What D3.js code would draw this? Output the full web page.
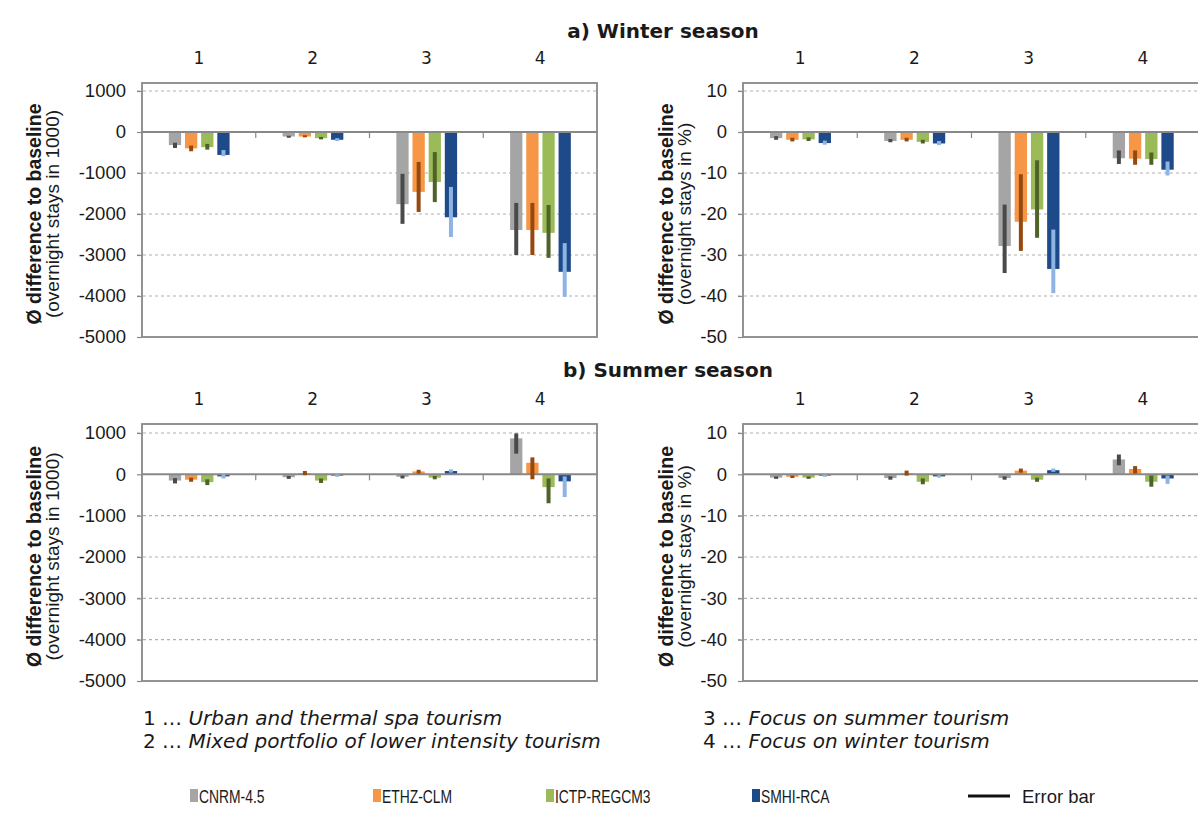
<!DOCTYPE html>
<html>
<head>
<meta charset="utf-8">
<script src="https://cdn.jsdelivr.net/npm/d3@7"></script>
<style>
  html, body { margin: 0; padding: 0; background: #fff; }
  svg { display: block; }
  .tick text { font-family: "Liberation Sans", Arial, sans-serif; font-size: 18.5px; fill: #1a1a1a; }
</style>
</head>
<body>
<svg id="chart" width="1198" height="828"></svg>
<script>
// Tourism clusters (x categories) and climate models (series)
const categories = ["1", "2", "3", "4"];
const models = ["CNRM-4.5", "ETHZ-CLM", "ICTP-REGCM3", "SMHI-RCA"];

// Winter season, mean difference in overnight stays (in 1000); one row per model
const winterStays = [
  [-320, -110, -1760, -2390],
  [-400, -110, -1460, -2390],
  [-370, -150, -1220, -2460],
  [-560, -190, -2080, -3410]
];
const winterStaysErr = [
  [[-260, -390], [-90, -140], [-1020, -2240], [-1730, -3000]],
  [[-330, -470], [-80, -130], [-730, -1950], [-1730, -3000]],
  [[-290, -430], [-120, -180], [-490, -1710], [-1780, -3070]],
  [[-440, -590], [-150, -220], [-1340, -2560], [-2710, -4020]]
];

// Winter season, mean difference in overnight stays (in %)
const winterPct = [
  [-1.5, -2.2, -27.8, -6.4],
  [-1.9, -1.9, -21.9, -6.5],
  [-1.8, -2.4, -18.9, -6.6],
  [-2.7, -2.8, -33.4, -9.2]
];
const winterPctErr = [
  [[-1.0, -1.9], [-1.7, -2.5], [-17.7, -34.4], [-4.5, -7.8]],
  [[-1.4, -2.3], [-1.4, -2.3], [-10.3, -29.0], [-4.5, -8.0]],
  [[-1.3, -2.2], [-1.9, -2.8], [-6.9, -25.8], [-5.0, -8.0]],
  [[-2.1, -3.1], [-2.2, -3.2], [-23.8, -39.3], [-7.2, -10.6]]
];

// Summer season, mean difference in overnight stays (in 1000)
const summerStays = [
  [-150, -70, -60, 870],
  [-130, 30, 70, 280],
  [-190, -150, -80, -310],
  [-50, -30, 80, -170]
];
const summerStaysErr = [
  [[-90, -220], [-40, -110], [-30, -100], [990, 500]],
  [[-80, -180], [80, -20], [110, 20], [410, -120]],
  [[-120, -260], [-100, -210], [-40, -120], [-100, -700]],
  [[0, -100], [0, -60], [120, 40], [-50, -550]]
];

// Summer season, mean difference in overnight stays (in %)
const summerPct = [
  [-0.8, -0.9, -0.9, 3.6],
  [-0.6, 0.3, 0.9, 1.3],
  [-0.8, -1.8, -1.3, -1.8],
  [-0.3, -0.5, 1.0, -1.0]
];
const summerPctErr = [
  [[-0.5, -1.1], [-0.5, -1.3], [-0.5, -1.3], [4.8, 2.2]],
  [[-0.3, -0.9], [0.9, -0.3], [1.4, 0.4], [2.0, 0.2]],
  [[-0.5, -1.1], [-1.0, -2.4], [-0.8, -1.8], [-0.3, -3.0]],
  [[0.0, -0.6], [-0.2, -0.8], [1.4, 0.6], [-0.3, -2.3]]
];

// Axis ticks
const staysTicks = [1000, 0, -1000, -2000, -3000, -4000, -5000];
const pctTicks = [10, 0, -10, -20, -30, -40, -50];

// Text
const seasonTitles = ["a) Winter season", "b) Summer season"];
const yTitleMain = "Ø difference to baseline";
const yTitleStays = "(overnight stays in 1000)";
const yTitlePct = "(overnight stays in %)";
const clusterNotes = [
  ["1 … ", "Urban and thermal spa tourism"],
  ["2 … ", "Mixed portfolio of lower intensity tourism"],
  ["3 … ", "Focus on summer tourism"],
  ["4 … ", "Focus on winter tourism"]
];
const errorLegend = "Error bar";

const barColors = ["#a5a5a5", "#f79646", "#9bbb59", "#1f4a8a"];
const errColors = ["#4a4a4a", "#96490f", "#4f6228", "#8db4e2"];

const svg = d3.select("#chart");
const FONT_ARIAL = "'Liberation Sans', Arial, sans-serif";
const FONT_VERDANA = "'DejaVu Sans', Verdana, sans-serif";

function drawPanel(cfg) {
  const { x0, x1, boxTop, boxBottom, gridTop, values, errs, ticks, unitTitle, titleX } = cfg;
  const g = svg.append("g");

  const x = d3.scaleBand().domain(categories).range([x0, x1]).paddingInner(0).paddingOuter(0);
  const bw = x.bandwidth();
  const xs = d3.scaleBand().domain(models).range([bw * 0.236, bw * 0.77]).paddingInner(0.24);
  const y = d3.scaleLinear().domain([d3.min(ticks), d3.max(ticks)]).range([boxBottom, gridTop]);

  // dashed gridlines
  g.selectAll("line.grid").data(ticks.filter(t => t !== 0 && t !== d3.min(ticks)))
    .join("line").attr("class", "grid")
    .attr("x1", x0 - 5).attr("x2", x1)
    .attr("y1", d => y(d)).attr("y2", d => y(d))
    .attr("stroke", "#b0b0b0").attr("stroke-width", 1.2).attr("stroke-dasharray", "3,3");

  // plot area frame
  g.append("rect").attr("x", x0).attr("y", boxTop).attr("width", x1 - x0).attr("height", boxBottom - boxTop)
    .attr("fill", "none").attr("stroke", "#888").attr("stroke-width", 1.8);

  // y axis labels
  const yAxis = d3.axisLeft(y).tickValues(ticks).tickSize(5).tickPadding(11).tickFormat(d3.format("d"));
  const ya = g.append("g").attr("transform", `translate(${x0},0)`).call(yAxis);
  ya.select(".domain").remove();
  ya.selectAll(".tick line").attr("stroke", "#888").attr("stroke-width", 1.2);
  ya.selectAll(".tick text").text(d => d3.format("d")(d).replace("−", "-"));

  // bars
  models.forEach((m, si) => {
    g.selectAll(null).data(categories).join("rect")
      .attr("x", c => x(c) + xs(m))
      .attr("width", xs.bandwidth())
      .attr("y", (c, ci) => Math.min(y(values[si][ci]), y(0)))
      .attr("height", (c, ci) => Math.abs(y(values[si][ci]) - y(0)))
      .attr("fill", barColors[si]);
  });

  // zero line with category separators
  g.append("line").attr("x1", x0).attr("x2", x1).attr("y1", y(0)).attr("y2", y(0))
    .attr("stroke", "#888").attr("stroke-width", 2);
  g.selectAll(null).data(categories.slice(1)).join("line")
    .attr("x1", c => x(c)).attr("x2", c => x(c))
    .attr("y1", y(0)).attr("y2", y(0) + 6)
    .attr("stroke", "#888").attr("stroke-width", 1.2);

  // error bars
  models.forEach((m, si) => {
    g.selectAll(null).data(categories).join("line")
      .attr("x1", c => x(c) + xs(m) + xs.bandwidth() / 2)
      .attr("x2", c => x(c) + xs(m) + xs.bandwidth() / 2)
      .attr("y1", (c, ci) => y(errs[si][ci][0]))
      .attr("y2", (c, ci) => y(errs[si][ci][1]))
      .attr("stroke", errColors[si]).attr("stroke-width", 4);
  });

  // category labels above the frame
  g.selectAll(null).data(categories).join("text")
    .attr("x", c => x(c) + bw / 2).attr("y", boxTop - 19)
    .attr("text-anchor", "middle")
    .attr("font-family", FONT_VERDANA).attr("font-size", 17).attr("fill", "#1a1a1a")
    .text(c => c);

  // y axis title (two lines)
  const cy = (boxTop + boxBottom) / 2 + 4;
  g.append("text").attr("transform", `translate(${titleX},${cy}) rotate(-90)`)
    .attr("text-anchor", "middle").attr("font-family", FONT_ARIAL).attr("font-size", 19.5)
    .attr("font-weight", "bold").attr("fill", "#1a1a1a").text(yTitleMain);
  g.append("text").attr("transform", `translate(${titleX + 18},${cy}) rotate(-90)`)
    .attr("text-anchor", "middle").attr("font-family", FONT_ARIAL).attr("font-size", 19)
    .attr("fill", "#1a1a1a").text(unitTitle);
}

const leftX = [142, 597], rightX = [743, 1200];
const topRow = { boxTop: 83, boxBottom: 337, gridTop: 91 };
const botRow = { boxTop: 424, boxBottom: 681, gridTop: 433 };

drawPanel({ x0: leftX[0], x1: leftX[1], ...topRow, values: winterStays, errs: winterStaysErr, ticks: staysTicks, unitTitle: yTitleStays, titleX: 41 });
drawPanel({ x0: rightX[0], x1: rightX[1], ...topRow, values: winterPct, errs: winterPctErr, ticks: pctTicks, unitTitle: yTitlePct, titleX: 673 });
drawPanel({ x0: leftX[0], x1: leftX[1], ...botRow, values: summerStays, errs: summerStaysErr, ticks: staysTicks, unitTitle: yTitleStays, titleX: 41 });
drawPanel({ x0: rightX[0], x1: rightX[1], ...botRow, values: summerPct, errs: summerPctErr, ticks: pctTicks, unitTitle: yTitlePct, titleX: 673 });

// season titles
svg.selectAll(null).data(seasonTitles).join("text")
  .attr("x", (d, i) => i === 0 ? 663 : 668).attr("y", (d, i) => i === 0 ? 38 : 377)
  .attr("text-anchor", "middle").attr("font-family", FONT_VERDANA).attr("font-size", 20)
  .attr("font-weight", "bold").attr("fill", "#1a1a1a").text(d => d);

// cluster notes
const noteX = [143, 143, 703, 703], noteY = [725, 748, 725, 748];
clusterNotes.forEach((n, i) => {
  const t = svg.append("text").attr("x", noteX[i]).attr("y", noteY[i])
    .attr("font-family", FONT_VERDANA).attr("font-size", 20).attr("fill", "#1a1a1a");
  t.append("tspan").text(n[0]);
  t.append("tspan").attr("font-style", "italic").text(n[1]);
});

// legend: condensed model names, regular error-bar label
const legendX = [190, 373, 546, 752];
const lg = svg.append("g");
const legendText = (x, txt, sx) => lg.append("text")
  .attr("transform", `translate(${x},803) scale(${sx},1)`)
  .attr("font-family", FONT_ARIAL).attr("font-size", 18.5).attr("fill", "#1a1a1a").text(txt);
models.forEach((m, i) => {
  lg.append("rect").attr("x", legendX[i]).attr("y", 789).attr("width", 8).attr("height", 13).attr("fill", barColors[i]);
  legendText(legendX[i] + 9, m, 0.75);
});
lg.append("line").attr("x1", 968).attr("x2", 1010).attr("y1", 796).attr("y2", 796)
  .attr("stroke", "#111").attr("stroke-width", 3);
legendText(1022, errorLegend, 1);
</script>
</body>
</html>
